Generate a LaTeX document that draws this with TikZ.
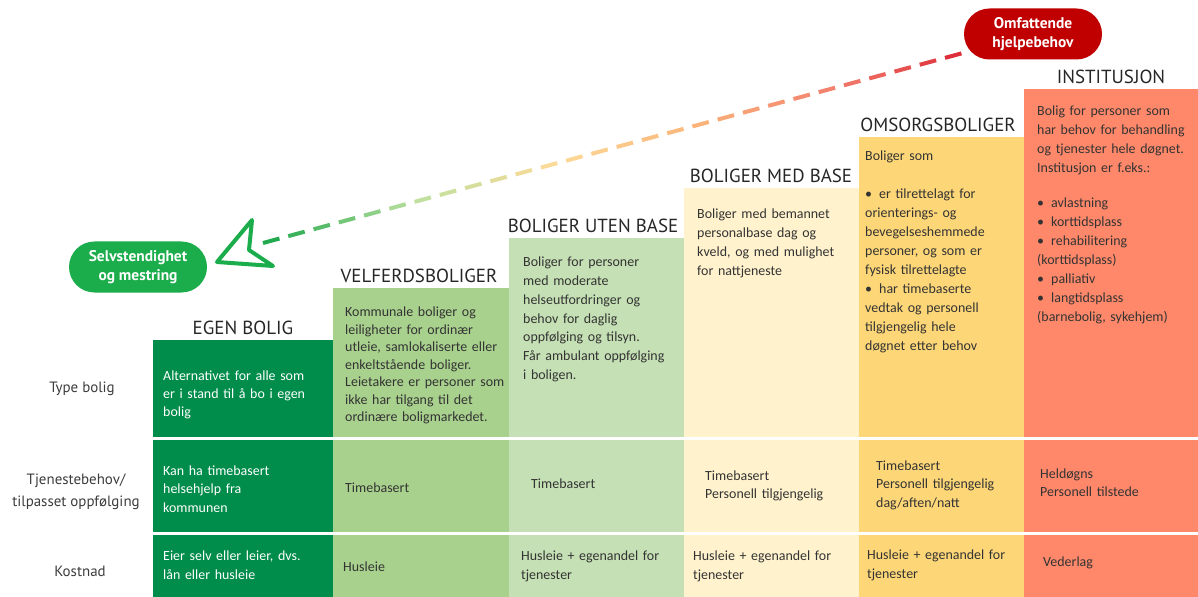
\documentclass[tikz,border=0pt]{standalone}
\usepackage{fontspec}
\setmainfont{Carlito}
\newfontfamily\dinfont{PT Sans}
\usetikzlibrary{shapes.misc,calc}

\definecolor{egen}{HTML}{008C4A}
\definecolor{velferd}{HTML}{A9D18E}
\definecolor{uten}{HTML}{C5E0B4}
\definecolor{med}{HTML}{FFF2CC}
\definecolor{omsorg}{HTML}{FDD677}
\definecolor{inst}{HTML}{FF886A}
\definecolor{pillegroenn}{HTML}{1BAD4B}
\definecolor{pillerod}{HTML}{C00000}
\definecolor{tekstgraa}{HTML}{333333}
\definecolor{radgraa}{HTML}{3C3C3C}
% fargetrinn langs den stiplede linja
\definecolor{s0}{HTML}{22A84E}
\definecolor{s1}{HTML}{BCE0A0}
\definecolor{s2}{HTML}{FDDB9A}
\definecolor{s3}{HTML}{FBB57A}
\definecolor{s4}{HTML}{F27E6E}
\definecolor{s5}{HTML}{D81E2E}

\newcommand\bpunkt{\par\hangindent=14bp\hangafter=1\noindent\makebox[14bp][l]{\textbullet}}

\begin{document}
\begin{tikzpicture}
 [x=1bp,y=-1bp,
  every node/.style={inner sep=0pt,text=tekstgraa},
  overskrift/.style={anchor=base,font=\dinfont\fontsize{19}{22}\selectfont,text=black!85},
  radtekst/.style={align=center,font=\dinfont\fontsize{15}{22}\selectfont,text=radgraa},
  celle/.style={anchor=base west,align=left,text width=168bp,font=\fontsize{14}{19}\selectfont},
  liste/.style={celle,text width=160bp},
  pille/.style={rounded rectangle,minimum width=138bp,minimum height=51bp,text=white,align=center,font=\dinfont\bfseries\fontsize{15.5}{19}\selectfont}]
  \useasboundingbox (0,0) rectangle (1198,597);

  % kolonner og skillelinjer
  \foreach \xa/\xb/\yt/\farge in {153/333/340/egen,333/509/288/velferd,509/684/238/uten,684/859/188/med,859/1024/137/omsorg,1024/1198/89/inst}
    \fill[\farge] (\xa,\yt) rectangle (\xb,597);
  \foreach \y in {438.5,533.5}
    \draw[white,line width=2.5bp] (153,\y) -- (1198,\y);

  \node (h1)[overskrift] at (243,335) {EGEN BOLIG};
  \node (h2)[overskrift] at (419,283) {VELFERDSBOLIGER};
  \node (h3)[overskrift] at (593,233) {BOLIGER UTEN BASE};
  \node (h4)[overskrift] at (771,183) {BOLIGER MED BASE};
  \node (h5)[overskrift] at (938,132) {OMSORGSBOLIGER};
  \node (h6)[overskrift] at (1111,84) {INSTITUSJON};

  \node (ra)[radtekst] at (82,389) {Type bolig};
  \node (rb)[radtekst] at (76,492) {Tjenestebehov/\\tilpasset oppfølging};
  \node (rc)[radtekst] at (80,571) {Kostnad};

  % type bolig
  \node (ta1)[celle,text=white,font=\fontsize{14}{18.5}\selectfont] at (163,380) {Alternativet for alle som\\er i stand til å bo i egen\\bolig};
  \node (ta2)[celle,font=\fontsize{14}{17.5}\selectfont] at (345,317) {Kommunale boliger og\\leiligheter for ordinær\\utleie, samlokaliserte eller\\enkeltstående boliger.\\Leietakere er personer som\\ikke har tilgang til det\\ordinære boligmarkedet.};
  \node (ta3)[celle,font=\fontsize{14}{18.8}\selectfont] at (523,267) {Boliger for personer\\med moderate\\helseutfordringer og\\behov for daglig\\oppfølging og tilsyn.\\Får ambulant oppfølging\\i boligen.};
  \node (ta4)[celle] at (697,219) {Boliger med bemannet\\personalbase dag og\\kveld, og med mulighet\\for nattjeneste};
  \node (ta5)[liste,text width=155bp] at (865,161) {Boliger som\par\vspace{19bp}
    \bpunkt er tilrettelagt for\\orienterings- og\\bevegelseshemmede\\personer, og som er\\fysisk tilrettelagte
    \bpunkt har timebaserte\\vedtak og personell\\tilgjengelig hele\\døgnet etter behov};
  \node (ta6)[liste] at (1037,116) {Bolig for personer som\\har behov for behandling\\og tjenester hele døgnet.\\Institusjon er f.eks.:\par\vspace{16bp}
    \bpunkt avlastning
    \bpunkt korttidsplass
    \bpunkt rehabilitering\\(korttidsplass)
    \bpunkt palliativ
    \bpunkt langtidsplass\\(barnebolig, sykehjem)};

  % tjenestebehov
  \node (tb1)[celle,text=white] at (163,475) {Kan ha timebasert\\helsehjelp fra\\kommunen};
  \node (tb2)[celle] at (345,492) {Timebasert};
  \node (tb3)[celle] at (531,488) {Timebasert};
  \node (tb4)[celle] at (705,480) {Timebasert\\Personell tilgjengelig};
  \node (tb5)[celle] at (876,470) {Timebasert\\Personell tilgjengelig\\dag/aften/natt};
  \node (tb6)[celle] at (1040,478) {Heldøgns\\Personell tilstede};

  % kostnad
  \node (tc1)[celle,text=white,font=\fontsize{14}{20}\selectfont] at (163,560) {Eier selv eller leier, dvs.\\lån eller husleie};
  \node (tc2)[celle] at (343,571) {Husleie};
  \node (tc3)[celle,font=\fontsize{14}{20}\selectfont] at (521,560) {Husleie + egenandel for\\tjenester};
  \node (tc4)[celle,font=\fontsize{14}{20}\selectfont] at (693,560) {Husleie + egenandel for\\tjenester};
  \node (tc5)[celle,font=\fontsize{14}{19.5}\selectfont] at (867,559) {Husleie + egenandel for\\tjenester};
  \node (tc6)[celle] at (1043,566) {Vederlag};

  % ytterpunktene
  \node (selv)[pille,fill=pillegroenn] at (138,267) {Selvstendighet\\og mestring};
  \node (hjelp)[pille,fill=pillerod] at (1033,34) {Omfattende\\hjelpebehov};

  \coordinate (hale) at (263,243);
  \path (hale) -- (hjelp) coordinate[pos=1] (spiss);
  \foreach \i in {0,...,27}{
    \pgfmathsetmacro\ta{\i/28}
    \pgfmathsetmacro\tb{\ta+0.65/28}
    \pgfmathtruncatemacro\k{min(4,floor(5*\ta))}
    \pgfmathtruncatemacro\f{(5*\ta-\k)*100}
    \pgfmathtruncatemacro\kk{\k+1}
    \draw[line width=4bp,color=s\kk!\f!s\k] ($(hale)!\ta!(spiss)$) -- ($(hale)!\tb!(spiss)$);
  }
  \draw[pillegroenn,line width=4bp,line join=round,fill=white] (217,262) -- (252,220) -- (249,250) -- (273,266) -- cycle;
\end{tikzpicture}
\end{document}
